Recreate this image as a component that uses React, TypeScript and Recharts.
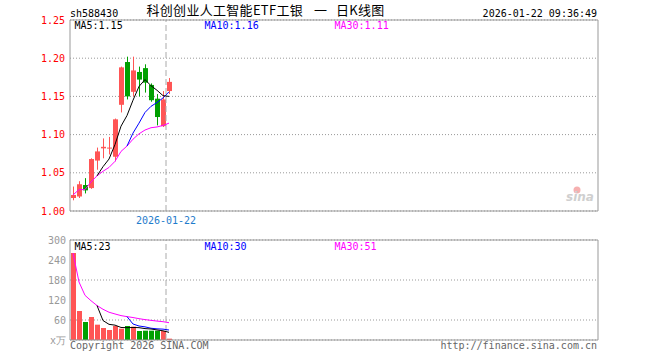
import React from 'react';
import {
  ComposedChart,
  Bar,
  Line,
  XAxis,
  YAxis,
  CartesianGrid,
  ReferenceLine
} from 'recharts';

// 交易日
const DATES = [
  '2025-12-29', '2025-12-30', '2025-12-31', '2026-01-05', '2026-01-06', '2026-01-07',
  '2026-01-08', '2026-01-09', '2026-01-12', '2026-01-13', '2026-01-14', '2026-01-15',
  '2026-01-16', '2026-01-19', '2026-01-20', '2026-01-21', '2026-01-22'
];

// 日K
const OPEN = [1.017, 1.019, 1.034, 1.030, 1.066, 1.082, 1.082, 1.071, 1.139, 1.195, 1.156, 1.182, 1.187, 1.165, 1.147, 1.111, 1.157];
const CLOSE = [1.021, 1.035, 1.027, 1.068, 1.078, 1.084, 1.083, 1.120, 1.188, 1.150, 1.184, 1.172, 1.168, 1.145, 1.123, 1.146, 1.169];
const HIGH = [1.032, 1.039, 1.043, 1.069, 1.083, 1.095, 1.097, 1.121, 1.189, 1.202, 1.202, 1.189, 1.192, 1.167, 1.153, 1.157, 1.174];
const LOW = [1.014, 1.017, 1.023, 1.029, 1.054, 1.069, 1.074, 1.065, 1.129, 1.146, 1.150, 1.150, 1.155, 1.143, 1.112, 1.110, 1.153];

// 均线 (价格)
const MA5 = [null, null, null, null, 1.046, 1.058, 1.068, 1.087, 1.111, 1.125, 1.145, 1.163, 1.172, 1.164, 1.158, 1.151, 1.150];
const MA10 = [null, null, null, null, null, null, null, null, null, 1.085, 1.102, 1.115, 1.129, 1.137, 1.142, 1.148, 1.156];
const MA30 = [1.021, 1.028, 1.028, 1.038, 1.046, 1.052, 1.057, 1.065, 1.078, 1.085, 1.094, 1.101, 1.106, 1.109, 1.110, 1.112, 1.115];

// 成交量 (万)
const VOL = [261, 87, 54, 69, 46, 36, 30, 42, 34, 42, 40, 27, 28, 28, 28, 27, 4];
const VMA5 = [null, null, null, null, 103.4, 58.4, 47, 44.6, 37.6, 36.8, 37.6, 37, 34.2, 33, 30.2, 27.6, 23];
const VMA10 = [null, null, null, null, null, null, null, null, null, 70.1, 48, 42, 39.4, 35.3, 33.5, 32.6, 30];
const VMA30 = [261, 174, 134, 117.8, 103.4, 92.2, 83.3, 78.1, 73.2, 70.1, 67.4, 64, 61.2, 58.9, 56.8, 54.9, 51.9];

const PRICE_TICKS = [1.0, 1.05, 1.1, 1.15, 1.2, 1.25];
const VOL_TICKS = [0, 60, 120, 180, 240, 300];
const MARK_DATE = '2026-01-22';
const SLOTS = 88;

const RED = '#ff5555';
const GREEN = '#00a000';
const FRAME = '#999999';
const MONO = '"DejaVu Sans Mono", monospace';
const CJK = '"Noto Sans CJK SC", sans-serif';

const rows = Array.from({ length: SLOTS }, (_, i) =>
  i < DATES.length
    ? {
        date: DATES[i],
        open: OPEN[i],
        close: CLOSE[i],
        high: HIGH[i],
        low: LOW[i],
        ma5: MA5[i],
        ma10: MA10[i],
        ma30: MA30[i],
        vol: VOL[i],
        vma5: VMA5[i],
        vma10: VMA10[i],
        vma30: VMA30[i],
        up: CLOSE[i] >= OPEN[i]
      }
    : { date: `slot${i}` }
);

// 蜡烛: 区间 [low, high] 的柱, 再按比例画实体
const Candle = (props: any) => {
  const { x, y, width, height, payload } = props;
  if (!payload || payload.high == null) return null;
  const { open, close, high, low } = payload;
  const top = Math.min(y, y + height);
  const h = Math.abs(height);
  const k = h / (high - low);
  const yOf = (v: number) => top + (high - v) * k;
  const color = close >= open ? RED : GREEN;
  const left = Math.round(x);
  const cx = left + Math.floor(width / 2) + 0.5;
  const bTop = yOf(Math.max(open, close));
  const bBot = yOf(Math.min(open, close));
  return (
    <g>
      <line x1={cx} x2={cx} y1={top} y2={top + h} stroke={color} strokeWidth={1} />
      <rect x={left} y={bTop} width={Math.round(width)} height={Math.max(1, bBot - bTop)} fill={color} />
    </g>
  );
};

const VolBar = (props: any) => {
  const { x, y, width, height, payload } = props;
  if (!payload || payload.vol == null) return null;
  return (
    <rect
      x={Math.round(x)}
      y={y}
      width={Math.round(width)}
      height={height}
      fill={payload.up ? RED : GREEN}
    />
  );
};

const axisFont = { fontSize: 10, fontFamily: MONO };

export default function App() {
  return (
    <div style={{ position: 'relative', width: 660, height: 360, background: '#fff', overflow: 'hidden' }}>
      <style>{'body{margin:0}'}</style>

      {/* 日K */}
      <div style={{ position: 'absolute', left: 0, top: 0 }}>
        <ComposedChart width={660} height={230} data={rows} margin={{ top: 0, right: 0, bottom: 0, left: 0 }}>
          <CartesianGrid vertical={false} stroke={FRAME} strokeDasharray="1 2" />
          <XAxis
            dataKey="date"
            height={19}
            ticks={[MARK_DATE]}
            interval={0}
            tickLine={false}
            tickSize={0}
            tickMargin={6}
            axisLine={{ stroke: FRAME }}
            tick={{ ...axisFont, fill: '#1f7ccc', dx: -3 }}
          />
          <XAxis xAxisId="top" dataKey="date" orientation="top" height={20} tick={false} tickLine={false} axisLine={{ stroke: FRAME }} />
          <YAxis
            domain={[1.0, 1.25]}
            ticks={PRICE_TICKS}
            width={70}
            tickLine={false}
            tickSize={0}
            tickMargin={5}
            axisLine={{ stroke: FRAME }}
            tick={{ ...axisFont, fill: '#ff0000' }}
            tickFormatter={(v: number) => v.toFixed(2)}
          />
          <YAxis yAxisId="r" orientation="right" domain={[1.0, 1.25]} width={62} tick={false} tickLine={false} axisLine={{ stroke: FRAME }} />
          <ReferenceLine x={MARK_DATE} position="start" stroke="#aaaaaa" strokeDasharray="6 3" />
          <Bar dataKey={(d: any) => (d.high == null ? null : [d.low, d.high])} barSize={5} shape={<Candle />} isAnimationActive={false} />
          <Line dataKey="ma30" stroke="#ff00ff" strokeWidth={1} dot={false} isAnimationActive={false} />
          <Line dataKey="ma10" stroke="#0000ff" strokeWidth={1} dot={false} isAnimationActive={false} />
          <Line dataKey="ma5" stroke="#000000" strokeWidth={1} dot={false} isAnimationActive={false} />
        </ComposedChart>
      </div>

      {/* 成交量 */}
      <div style={{ position: 'absolute', left: 0, top: 230 }}>
        <ComposedChart width={660} height={130} data={rows} margin={{ top: 0, right: 0, bottom: 0, left: 0 }}>
          <CartesianGrid vertical={false} stroke={FRAME} strokeDasharray="1 2" />
          <XAxis dataKey="date" height={20} tick={false} tickLine={false} axisLine={{ stroke: FRAME }} />
          <XAxis xAxisId="top" dataKey="date" orientation="top" height={10} tick={false} tickLine={false} axisLine={{ stroke: FRAME }} />
          <YAxis
            domain={[0, 300]}
            ticks={VOL_TICKS}
            width={70}
            tickLine={false}
            tickSize={0}
            tickMargin={4}
            axisLine={{ stroke: FRAME }}
            tick={{ ...axisFont, fill: '#999999' }}
            tickFormatter={(v: number) => (v === 0 ? 'x万' : String(v))}
          />
          <YAxis yAxisId="r" orientation="right" domain={[0, 300]} width={62} tick={false} tickLine={false} axisLine={{ stroke: FRAME }} />
          <ReferenceLine x={MARK_DATE} position="start" stroke="#aaaaaa" strokeDasharray="6 3" />
          <Bar dataKey="vol" barSize={5} shape={<VolBar />} isAnimationActive={false} />
          <Line dataKey="vma30" stroke="#ff00ff" strokeWidth={1} dot={false} isAnimationActive={false} />
          <Line dataKey="vma10" stroke="#0000ff" strokeWidth={1} dot={false} isAnimationActive={false} />
          <Line dataKey="vma5" stroke="#000000" strokeWidth={1} dot={false} isAnimationActive={false} />
        </ComposedChart>
      </div>

      {/* 标题, 图例, 版权 */}
      <svg width={660} height={360} style={{ position: 'absolute', left: 0, top: 0, pointerEvents: 'none' }}>
        <g fontFamily={MONO} fontSize={10}>
          <text x={70} y={17} fill="#000">sh588430</text>
          <text x={597} y={17} fill="#000" textAnchor="end">2026-01-22 09:36:49</text>
          <text x={74.5} y={29} fill="#000">MA5:1.15</text>
          <text x={204.5} y={29} fill="#0000ff">MA10:1.16</text>
          <text x={334.5} y={29} fill="#ff00ff">MA30:1.11</text>
          <text x={74.5} y={250} fill="#000">MA5:23</text>
          <text x={204.5} y={250} fill="#0000ff">MA10:30</text>
          <text x={334.5} y={250} fill="#ff00ff">MA30:51</text>
          <text x={70} y={349} fill="#666">Copyright 2026 SINA.COM</text>
          <text x={597} y={349} fill="#666" textAnchor="end">http://finance.sina.com.cn</text>
        </g>
        <g fontFamily={CJK} fontSize={13} fill="#000" letterSpacing={0.3}>
          <text x={146.5} y={14.5}>科创创业人工智能ETF工银</text>
          <text x={314} y={14.5}>一</text>
          <text x={336} y={14.5}>日K线图</text>
        </g>
        <g>
          <circle cx={577} cy={190} r={3.5} fill="#f6b0b0" />
          <text x={566} y={201} fontFamily='"DejaVu Sans", sans-serif' fontStyle="italic" fontWeight="bold" fontSize={12} fill="#cfcfcf">sina</text>
        </g>
      </svg>
    </div>
  );
}
